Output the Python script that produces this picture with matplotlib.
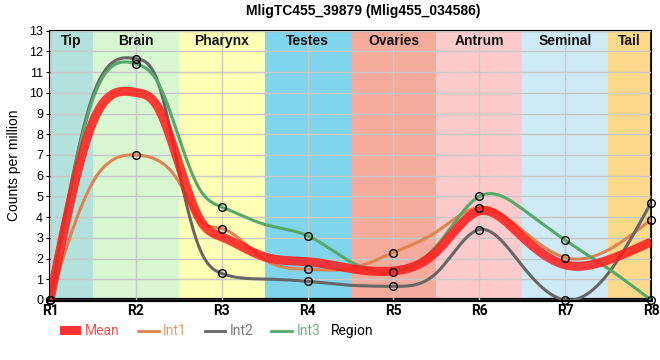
#!/usr/bin/env python3
"""Expression profile along body regions, smoothed with cubic spline curves."""

import matplotlib

matplotlib.use("Agg")
import matplotlib.pyplot as plt
from matplotlib.lines import Line2D
from matplotlib.patches import Patch
import numpy as np

REGIONS = ["R1", "R2", "R3", "R4", "R5", "R6", "R7", "R8"]
BANDS = ["Tip", "Brain", "Pharynx", "Testes", "Ovaries", "Antrum", "Seminal", "Tail"]
BAND_COLORS = ["#b3e2dd", "#d8f6d0", "#ffffb5", "#80d4ec", "#f4ab9c",
               "#fdcbcb", "#cdeaf5", "#fdda8b"]

# sample positions along the body (0 = R1 ... 7 = R8); circles sit on whole regions
POS = [0, 0.5, 1, 1.25, 1.5, 1.75, 2, 2.5, 3, 3.5, 4, 4.5, 5, 5.5, 6, 6.5, 7]
INT1 = [0, 5.7, 7.0, 6.75, 5.7, 3.85, 3.45, 1.95, 1.48, 1.52, 2.29,
        3.29, 4.46, 3.37, 2.05, 2.41, 3.88]
INT2 = [0, 9.87, 11.65, 10.6, 6.26, 2.41, 1.28, 1.01, 0.9, 0.71, 0.66,
        1.3, 3.4, 1.65, 0, 1.28, 4.7]
INT3 = [0, 9.71, 11.4, 10.55, 7.86, 5.3, 4.49, 3.65, 3.1, 1.85, 1.36,
        2.6, 5.0, 4.4, 2.89, 1.52, 0]
MEAN = [0, 8.6, 10.02, 9.35, 6.58, 3.85, 3.05, 2.08, 1.85, 1.52, 1.40,
        2.33, 4.3, 3.05, 1.70, 1.93, 2.8]

RED = "#ff1a1a"
ORANGE = "#dd8452"
GRAY = "#666666"
GREEN = "#55a868"


def spline(x, y, n=40):
    """Natural cubic spline through (x, y)."""
    x = np.asarray(x, dtype=float)
    y = np.asarray(y, dtype=float)
    k = len(x)
    h = np.diff(x)
    A = np.zeros((k, k))
    b = np.zeros(k)
    A[0, 0] = A[-1, -1] = 1
    for i in range(1, k - 1):
        A[i, i - 1] = h[i - 1]
        A[i, i] = 2 * (h[i - 1] + h[i])
        A[i, i + 1] = h[i]
        b[i] = 6 * ((y[i + 1] - y[i]) / h[i] - (y[i] - y[i - 1]) / h[i - 1])
    M = np.linalg.solve(A, b)
    xs, ys = [], []
    for i in range(k - 1):
        t = np.linspace(x[i], x[i + 1], n, endpoint=(i == k - 2))
        a = x[i + 1] - t
        c = t - x[i]
        s = (M[i] * a**3 + M[i + 1] * c**3) / (6 * h[i]) \
            + (y[i] / h[i] - M[i] * h[i] / 6) * a \
            + (y[i + 1] / h[i] - M[i + 1] * h[i] / 6) * c
        xs.append(t)
        ys.append(s)
    return np.concatenate(xs), np.concatenate(ys)


plt.rcParams.update({
    "font.family": ["Liberation Sans", "DejaVu Sans"],
    "font.size": 9,
})

fig = plt.figure(figsize=(6.6, 3.6), dpi=100)
ax = fig.add_axes([0.0758, 0.1667, 0.9106, 0.748])

x = np.arange(len(REGIONS))
for i, (name, color) in enumerate(zip(BANDS, BAND_COLORS)):
    lo = max(i - 0.5, 0)
    hi = min(i + 0.5, len(REGIONS) - 1)
    ax.axvspan(lo, hi, color=color, lw=0, zorder=0)
    ax.text((lo + hi) / 2, 12.5, name, ha="center", va="center",
            fontsize=10, fontweight="bold", color="#111111", zorder=5)

ax.set_xlim(0, len(REGIONS) - 1)
ax.set_ylim(0, 13)
ax.set_xticks(x)
ax.set_xticklabels(REGIONS, family="Roboto", fontweight="bold", fontsize=10)
ax.set_yticks(range(0, 14))
ax.tick_params(axis="y", length=3, labelsize=9, pad=2)
ax.tick_params(axis="x", length=0, pad=3)
ax.grid(True, color="#c8c8c8", linewidth=1, zorder=1)
ax.set_axisbelow(False)

for series, color in [(INT1, ORANGE), (INT2, GRAY), (INT3, GREEN)]:
    sx, sy = spline(POS, series)
    ax.plot(sx, sy, color=color, lw=2.2, zorder=3, solid_capstyle="butt")

mx, my = spline(POS, MEAN)
ax.plot(mx, my, color=RED, lw=6.5, alpha=0.85, zorder=4, solid_capstyle="butt")

pos = np.asarray(POS)
whole = pos == np.round(pos)
for series in (INT1, INT2, INT3):
    ax.plot(pos[whole], np.asarray(series)[whole], ls="none", marker="o", ms=5.5,
            mfc="none", mec="black", mew=1, zorder=6, clip_on=False)

for side in ("left", "right", "top"):
    ax.spines[side].set_linewidth(1.5)
ax.spines["bottom"].set_linewidth(3)

ax.set_ylabel("Counts per million", fontsize=10, labelpad=6)
fig.suptitle("MligTC455_39879 (Mlig455_034586)", fontsize=10, fontweight="bold",
             x=0.55, y=0.99)

handles = [
    Patch(facecolor=RED, alpha=0.9, label="Mean"),
    Line2D([], [], color=ORANGE, lw=2, label="Int1"),
    Line2D([], [], color=GRAY, lw=2, label="Int2"),
    Line2D([], [], color=GREEN, lw=2, label="Int3"),
]
leg = fig.legend(handles=handles, loc="center left", bbox_to_anchor=(0.072, 0.08),
                 ncol=4, frameon=False, handlelength=1.5, handleheight=0.6,
                 handletextpad=0.3, columnspacing=1.3,
                 prop={"family": "Roboto", "size": 10})
for text, color in zip(leg.get_texts(), ["#ff4d4d", "#e89a66", "#777777", "#6cb07c"]):
    text.set_color(color)

fig.text(0.502, 0.08, "Region", ha="left", va="center", family="Roboto", fontsize=10)

fig.savefig("out.png", dpi=100)
